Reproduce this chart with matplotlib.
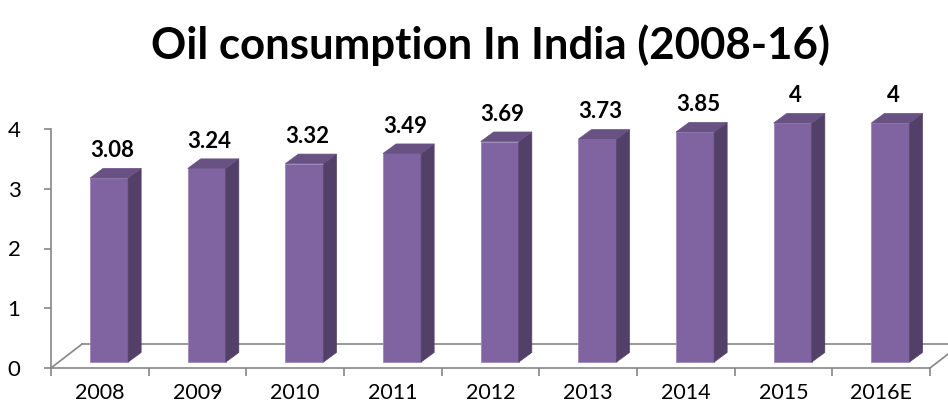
import numpy as np
import matplotlib
matplotlib.use("Agg")
import matplotlib.pyplot as plt
from matplotlib.patches import Polygon

years = ["2008", "2009", "2010", "2011", "2012", "2013", "2014", "2015", "2016E"]
consumption = [3.08, 3.24, 3.32, 3.49, 3.69, 3.73, 3.85, 4.0, 4.0]
value_labels = ["3.08", "3.24", "3.32", "3.49", "3.69", "3.73", "3.85", "4", "4"]

FRONT = "#8064a2"
SIDE = "#524068"
TOP = "#675283"
AXIS = "#868686"

plt.rcParams["font.family"] = ["Lato", "DejaVu Sans"]

fig = plt.figure(figsize=(9.48, 4.12), dpi=100)
ax = fig.add_axes([51 / 948, 44 / 412, 879 / 948, 239 / 412])
ax.set_xlim(0, 9)
ax.set_ylim(0, 4)

# pseudo-3d offsets (data units)
base = 0.1
dx, dy = 0.133, 0.16
fdx, fdy = 0.317, 0.4

# floor
ax.plot([0, fdx], [0, fdy], color=AXIS, lw=1.2, clip_on=False)
ax.plot([fdx, 9 + fdx + 0.5], [fdy, fdy], color=AXIS, lw=1.2, clip_on=False)
ax.plot([9, 9 + fdx], [0, fdy], color=AXIS, lw=1.2, clip_on=False)

for i, v in enumerate(consumption):
    x0, x1 = i + 0.40, i + 0.79
    yt = base + v
    side = [(x1, base), (x1 + dx, base + dy), (x1 + dx, yt + dy), (x1, yt)]
    top = [(x0, yt), (x1, yt), (x1 + dx, yt + dy), (x0 + dx, yt + dy)]
    ax.add_patch(Polygon([(x0, base), (x1, base), (x1, yt), (x0, yt)],
                         closed=True, fc=FRONT, ec="#9a86b8", lw=0.6, clip_on=False, zorder=3))
    ax.add_patch(Polygon(side, closed=True, fc=SIDE, ec=SIDE, lw=0.5, clip_on=False, zorder=3))
    ax.add_patch(Polygon(top, closed=True, fc=TOP, ec=TOP, lw=0.5, clip_on=False, zorder=3))
    ax.text((x0 + x1) / 2 + 0.03, yt + dy + 0.12, value_labels[i], ha="center", va="bottom",
            fontsize=16, fontweight="bold", color="black", zorder=4)

for s in ["top", "right"]:
    ax.spines[s].set_visible(False)
for s in ["left", "bottom"]:
    ax.spines[s].set_color(AXIS)
    ax.spines[s].set_linewidth(1.2)

ax.set_yticks([0, 1, 2, 3, 4])
ax.set_yticklabels(["0", "1", "2", "3", "4"], fontsize=16)
ax.set_xticks(np.arange(10))
ax.set_xticklabels([])
ax.set_xticks(np.arange(9) + 0.5, minor=True)
ax.set_xticklabels(years, minor=True, fontsize=15.5)
ax.tick_params(axis="x", which="major", length=6, color=AXIS, width=1.2)
ax.tick_params(axis="x", which="minor", length=0, pad=11)
ax.tick_params(axis="y", length=5, color=AXIS, width=1.2, pad=17)

fig.text(491 / 948, 0.89, "Oil consumption In India (2008-16)", ha="center", va="center",
         fontsize=31.5, fontweight="bold")

fig.savefig("out.png", dpi=100)
